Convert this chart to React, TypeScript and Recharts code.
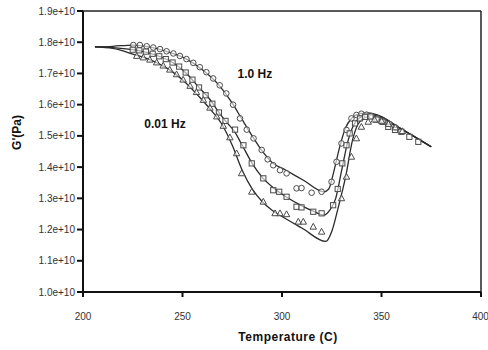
import React from 'react'
import {
  ComposedChart,
  Line,
  Scatter,
  XAxis,
  YAxis,
  ReferenceLine,
  ReferenceDot,
  Label
} from 'recharts'

// fitted curves (temperature, G' in units of 1e10 Pa)
const fitHiT = [206, 215, 225, 235, 245, 252, 260, 268, 275, 280, 285, 290, 295, 302, 311, 321, 323.5, 326, 329, 332, 335, 339, 343, 348, 355, 365, 375]
const fitHiG = [1.785, 1.787, 1.791, 1.783, 1.764, 1.746, 1.712, 1.665, 1.605, 1.552, 1.500, 1.452, 1.415, 1.390, 1.357, 1.321, 1.330, 1.385, 1.465, 1.527, 1.556, 1.571, 1.574, 1.565, 1.540, 1.503, 1.465]

const fitMidT = [206, 215, 225, 235, 245, 252, 258, 264, 268, 272, 276, 280, 285, 290, 296, 302, 310, 316, 321, 324, 327, 330, 333, 336, 340, 344, 350, 358, 366, 375]
const fitMidG = [1.785, 1.783, 1.776, 1.762, 1.735, 1.700, 1.657, 1.615, 1.578, 1.545, 1.515, 1.470, 1.412, 1.368, 1.332, 1.305, 1.276, 1.258, 1.246, 1.262, 1.300, 1.390, 1.480, 1.535, 1.562, 1.572, 1.562, 1.530, 1.500, 1.465]

const fitLoT = [206, 215, 225, 235, 245, 252, 258, 264, 270, 275, 280, 285, 290, 295, 300, 310, 322, 325, 328, 332, 335.5, 339, 345, 350, 358, 375]
const fitLoG = [1.785, 1.780, 1.762, 1.740, 1.705, 1.668, 1.628, 1.585, 1.535, 1.470, 1.390, 1.330, 1.290, 1.262, 1.242, 1.205, 1.162, 1.194, 1.264, 1.370, 1.488, 1.545, 1.566, 1.560, 1.530, 1.465]

// measured points
const ptsHiT = [225.3, 228.6, 232, 235.3, 238.7, 242, 245.4, 248.7, 252, 255.4, 258.7, 262, 265.4, 268.7, 272, 275.4, 278.9, 282.3, 285.7, 289.8, 292.8, 295.6, 299, 302.3, 307.3, 309.8, 314.9, 319.9, 324.9, 327.4, 329.9, 332.4, 334.9, 337.4, 339.9, 342.5, 345, 348, 351, 354, 357]
const ptsHiG = [1.791, 1.791, 1.787, 1.783, 1.778, 1.771, 1.764, 1.756, 1.746, 1.734, 1.720, 1.704, 1.684, 1.662, 1.636, 1.600, 1.556, 1.520, 1.492, 1.455, 1.425, 1.406, 1.390, 1.380, 1.332, 1.333, 1.318, 1.321, 1.353, 1.417, 1.476, 1.519, 1.556, 1.567, 1.571, 1.568, 1.564, 1.556, 1.548, 1.538, 1.527]

const ptsMidT = [225, 228.3, 231.6, 235, 238.3, 241.6, 245, 248.3, 251.6, 255, 258.3, 261.6, 265, 268.3, 271.6, 276.4, 280.6, 284.8, 290.6, 295.6, 298.6, 302.3, 307.3, 309.8, 315.7, 319.9, 325.7, 328, 330.3, 332.4, 334, 336.7, 339.2, 341.7, 344.5, 347.5, 350.5, 353.4, 356.8, 360, 364, 368.5]
const ptsMidG = [1.776, 1.774, 1.770, 1.763, 1.755, 1.746, 1.735, 1.722, 1.703, 1.680, 1.655, 1.630, 1.603, 1.575, 1.548, 1.520, 1.470, 1.412, 1.364, 1.326, 1.321, 1.305, 1.273, 1.271, 1.257, 1.252, 1.278, 1.330, 1.412, 1.470, 1.508, 1.540, 1.556, 1.561, 1.562, 1.552, 1.545, 1.529, 1.519, 1.513, 1.497, 1.481]

const ptsLoT = [227, 230.3, 233.6, 237, 240.3, 243.6, 247, 250.3, 253.8, 257, 260.5, 263.8, 267.2, 270.5, 273.8, 277.2, 279.7, 284.8, 290.6, 296.5, 299, 302.3, 308.2, 310.7, 315.7, 319.9, 329.9, 332.4, 334.9, 337.4, 339.9, 343.3, 346.5, 350, 353.5, 357, 360.5]
const ptsLoG = [1.756, 1.751, 1.744, 1.735, 1.725, 1.712, 1.697, 1.680, 1.660, 1.640, 1.615, 1.590, 1.562, 1.532, 1.495, 1.444, 1.380, 1.321, 1.289, 1.252, 1.252, 1.249, 1.225, 1.225, 1.209, 1.193, 1.300, 1.369, 1.433, 1.492, 1.529, 1.545, 1.552, 1.548, 1.538, 1.527, 1.515]

const xTicks = [200, 250, 300, 350, 400]
const yTicks = [1.0e10, 1.1e10, 1.2e10, 1.3e10, 1.4e10, 1.5e10, 1.6e10, 1.7e10, 1.8e10, 1.9e10]

const toRows = (ts: number[], gs: number[]) => ts.map((t, i) => ({ t, g: gs[i] * 1e10 }))

const INK = '#2a2a2a'
const MARK = '#4a4a4a'
const FONT = 'Arial, "Liberation Sans", sans-serif'
const tickFont = { fill: '#333', fontSize: 10, fontFamily: FONT }
const boldText = { fontSize: 12, fontWeight: 'bold', fill: '#111', fontFamily: FONT }

const CircleMark = (p: any) => (
  <circle cx={p.cx} cy={p.cy} r={2.8} fill="#fff" fillOpacity={0.6} stroke={MARK} strokeWidth={1} />
)
const SquareMark = (p: any) => (
  <rect x={p.cx - 2.6} y={p.cy - 2.6} width={5.2} height={5.2} fill="#fff" fillOpacity={0.6} stroke={MARK} strokeWidth={1} />
)
const TriangleMark = (p: any) => (
  <polygon
    points={`${p.cx},${p.cy - 3.4} ${p.cx + 3.2},${p.cy + 2.4} ${p.cx - 3.2},${p.cy + 2.4}`}
    fill="#fff"
    fillOpacity={0.6}
    stroke={MARK}
    strokeWidth={1}
  />
)

export default function App() {
  return (
    <div style={{ width: 488, height: 350 }}>
      {/* drop the default body margin so the chart fills the window without scrollbars */}
      <style>{'html,body{margin:0;padding:0;overflow:hidden;background:#fff}'}</style>
      <ComposedChart width={488} height={350} margin={{ top: 11, right: 7, left: 0, bottom: 0 }}>
        <XAxis
          dataKey="t"
          type="number"
          domain={[200, 400]}
          ticks={xTicks}
          allowDataOverflow
          stroke="#111"
          strokeWidth={2}
          tickSize={5}
          tickMargin={16}
          tick={tickFont}
          height={58}
        >
          <Label
            value="Temperature (C)"
            position="insideBottom"
            offset={9}
            dx={6}
            style={{ ...boldText, letterSpacing: 0.5 }}
          />
        </XAxis>
        <YAxis
          dataKey="g"
          type="number"
          domain={[1.0e10, 1.9e10]}
          ticks={yTicks}
          allowDataOverflow
          width={83}
          stroke="#111"
          strokeWidth={2}
          tickSize={6}
          tickMargin={2}
          tick={tickFont}
          tickFormatter={(v: number) => (v / 1e10).toFixed(1) + 'e+10'}
        >
          <Label
            content={(props: any) => {
              const vb = props.viewBox
              const x = vb.x + 17
              const y = vb.y + vb.height / 2 - 19
              return (
                <text
                  x={x}
                  y={y}
                  transform={`rotate(-90, ${x}, ${y})`}
                  textAnchor="middle"
                  dominantBaseline="central"
                  style={boldText}
                >
                  G'(Pa)
                </text>
              )
            }}
          />
        </YAxis>
        <ReferenceLine y={1.9e10} stroke="#222" strokeWidth={1.5} />
        <ReferenceLine x={400} stroke="#222" strokeWidth={1.5} />

        <Line data={toRows(fitHiT, fitHiG)} dataKey="g" type="monotoneX" stroke={INK} strokeWidth={1.3} dot={false} isAnimationActive={false} />
        <Line data={toRows(fitMidT, fitMidG)} dataKey="g" type="monotoneX" stroke={INK} strokeWidth={1.3} dot={false} isAnimationActive={false} />
        <Line data={toRows(fitLoT, fitLoG)} dataKey="g" type="monotoneX" stroke={INK} strokeWidth={1.3} dot={false} isAnimationActive={false} />

        <Scatter data={toRows(ptsHiT, ptsHiG)} dataKey="g" shape={CircleMark} isAnimationActive={false} />
        <Scatter data={toRows(ptsMidT, ptsMidG)} dataKey="g" shape={SquareMark} isAnimationActive={false} />
        <Scatter data={toRows(ptsLoT, ptsLoG)} dataKey="g" shape={TriangleMark} isAnimationActive={false} />

        <ReferenceDot x={286.4} y={1.698e10} r={0} stroke="none" fill="none">
          <Label value="1.0 Hz" position="center" style={boldText} />
        </ReferenceDot>
        <ReferenceDot x={241.2} y={1.538e10} r={0} stroke="none" fill="none">
          <Label value="0.01 Hz" position="center" style={boldText} />
        </ReferenceDot>
      </ComposedChart>
    </div>
  )
}
